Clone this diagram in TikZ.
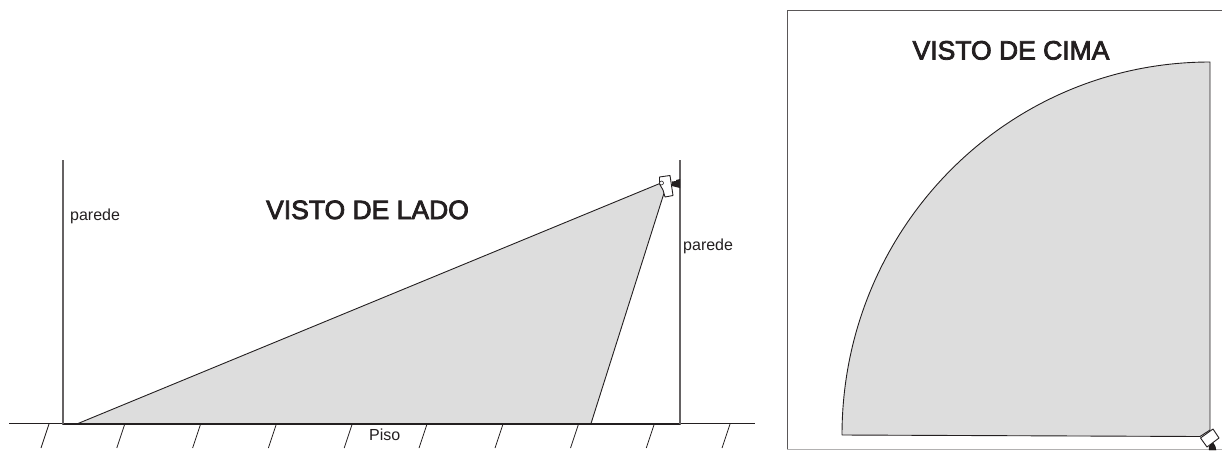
\documentclass[tikz,border=0pt]{standalone}
\usepackage{fontspec}
\setmainfont{Liberation Sans}
\newfontfamily\titlefont[FakeBold=3]{Liberation Sans}
\definecolor{zonegray}{RGB}{221,221,221}
\definecolor{ink}{RGB}{35,31,32}
\tikzset{
  ink line/.style={draw=ink,line width=0.9pt},
  wall/.style={draw=ink!70,line width=1.1pt},
  hatch/.style={draw=ink,line width=0.8pt},
  zone/.style={fill=zonegray,draw=ink,line width=0.9pt,line join=round},
  title/.style={text=ink,font=\fontsize{26.5}{28}\titlefont,inner sep=0pt},
  small/.style={text=ink,font=\fontsize{16}{18}\selectfont,inner sep=0pt}
}
\begin{document}
\begin{tikzpicture}[x=1pt,y=-1pt]
\useasboundingbox (0,0) rectangle (1222,450);
% left view
\coordinate (lensA) at (661,183);
\coordinate (lensB) at (665,190);
\coordinate (floorA) at (78,423.5);
\coordinate (floorB) at (591,423.5);
\fill[zonegray] (floorA) -- (lensA) -- (lensB) -- (floorB) -- cycle;
\draw[ink line] (floorA) -- (lensA) -- (lensB) -- (floorB);
\coordinate (fl) at (9,423.5);
\coordinate (fr) at (755,423.5);
\draw[ink line] (fl) -- (fr);
\coordinate (wlt) at (63,160);
\coordinate (wlb) at (63,424.5);
\coordinate (wrt) at (680,160);
\coordinate (wrb) at (680,424.5);
\draw[wall] (wlt) -- (wlb);
\draw[wall] (wrt) -- (wrb);
\draw[draw=ink,line width=1.5pt] (wlb) -- (wrb);
\foreach \x in {49,124.8,200.6,276.4,352.2,427,503,578.5,654.3,730}
  \draw[hatch] (\x,424) -- (\x-8,448);
% camera side
\draw[fill=white,draw=ink,line width=0.9pt,line join=round] (659.5,177) -- (670,175.5) -- (673,195.5) -- (665,197) -- (663,190) -- (659.5,184) -- cycle;
\fill[ink] (672,181.5) -- (676,181) -- (676,180) -- (680,179) -- (680,188) -- (676,187) -- (672,186) -- cycle;
\draw[fill=white,draw=ink,line width=0.6pt] (661.5,183) circle (2);
% labels
\node[title,anchor=base] (tl) at (367.5,219) {VISTO DE LADO};
\node[small,anchor=base west] (pl) at (70,220) {parede};
\node[small,anchor=base west] (pr) at (683,250.5) {parede};
\node[small,anchor=base west] (piso) at (369,440.5) {Piso};
% right view
\coordinate (ftr) at (1222,10);
\coordinate (ftl) at (787,10);
\coordinate (fbl) at (787,449);
\coordinate (fbr) at (1222,449);
\draw[draw=ink!75,line width=1pt] (ftr) -- (ftl) -- (fbl);
\draw[draw=ink!35,line width=0.8pt] (fbl) -- (fbr);
\coordinate (aL) at (842,435);
\coordinate (aT) at (1210,62);
\coordinate (aB) at (1200,436.5);
\draw[zone] (aL) .. controls (842,229) and (1006,62) .. (aT) -- (1210,430) -- (aB) -- cycle;
\draw[fill=ink] (1209,447) -- (1213,443) -- (1215,446) -- (1216,450) -- (1209,450) -- cycle;
\draw[fill=white,draw=ink,line width=0.9pt,line join=round] (1200.5,438) -- (1213,429) -- (1219,438) -- (1207,447) -- cycle;
\node[title,anchor=base] (tr) at (1011,59.5) {VISTO DE CIMA};
\end{tikzpicture}
\end{document}
